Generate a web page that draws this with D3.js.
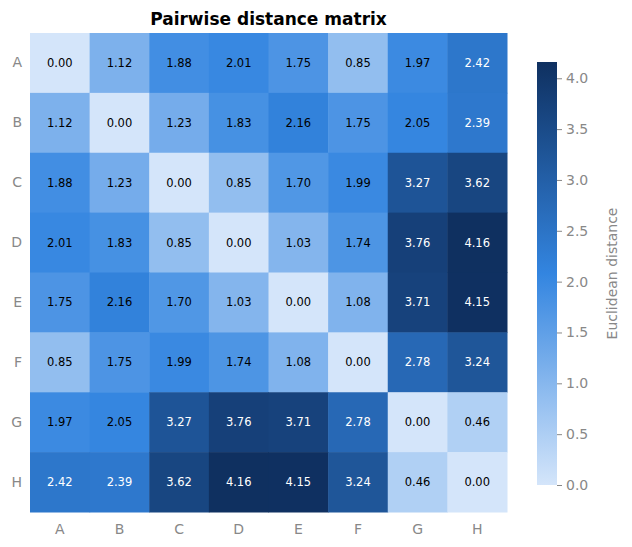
<!DOCTYPE html>
<html><head><meta charset="utf-8">
<script src="https://cdn.jsdelivr.net/npm/d3@7"></script>
<style>body{margin:0;background:#fff;font-family:"DejaVu Sans",sans-serif;}</style>
</head><body><div id="chart"></div>
<script>
const labels = ["A","B","C","D","E","F","G","H"];
const matrix = [
  [0.00,1.12,1.88,2.01,1.75,0.85,1.97,2.42],
  [1.12,0.00,1.23,1.83,2.16,1.75,2.05,2.39],
  [1.88,1.23,0.00,0.85,1.70,1.99,3.27,3.62],
  [2.01,1.83,0.85,0.00,1.03,1.74,3.76,4.16],
  [1.75,2.16,1.70,1.03,0.00,1.08,3.71,4.15],
  [0.85,1.75,1.99,1.74,1.08,0.00,2.78,3.24],
  [1.97,2.05,3.27,3.76,3.71,2.78,0.00,0.46],
  [2.42,2.39,3.62,4.16,4.15,3.24,0.46,0.00]
];
const cbTicks = [0,0.5,1,1.5,2,2.5,3,3.5,4];
const vmax = 4.16;

const svg = d3.select("#chart").append("svg").attr("width",632).attr("height",547);
const mLeft = 30, mTop = 33, w = 477, h = 479;

const x = d3.scaleBand().domain(labels).range([mLeft, mLeft+w]);
const y = d3.scaleBand().domain(labels).range([mTop, mTop+h]);
const color = d3.scaleLinear().domain([0, vmax/2, vmax])
  .range(["#d4e5fa","#3385e0","#0f3060"]).interpolate(d3.interpolateRgb);

const cells = [];
matrix.forEach((row,i) => row.forEach((v,j) => cells.push({r:labels[i], c:labels[j], v})));

svg.selectAll("rect.cell").data(cells).enter().append("rect")
  .attr("x", d => x(d.c)).attr("y", d => y(d.r))
  .attr("width", x.bandwidth()+0.5).attr("height", y.bandwidth()+0.5)
  .attr("fill", d => color(d.v));

svg.selectAll("text.val").data(cells).enter().append("text")
  .attr("x", d => x(d.c)+x.bandwidth()/2).attr("y", d => y(d.r)+y.bandwidth()/2)
  .attr("text-anchor","middle").attr("dominant-baseline","central")
  .attr("font-size",11.5).attr("fill", d => d.v > 2.3 ? "#fff" : "#000")
  .text(d => d.v.toFixed(2));

// axes labels
svg.append("g").attr("transform",`translate(0,${mTop+h})`)
  .call(d3.axisBottom(x).tickSize(0).tickPadding(12))
  .call(g => g.select(".domain").remove())
  .selectAll("text").attr("font-size",14).attr("fill","#888").attr("font-family","DejaVu Sans");
svg.append("g").attr("transform",`translate(${mLeft},0)`)
  .call(d3.axisLeft(y).tickSize(0).tickPadding(8))
  .call(g => g.select(".domain").remove())
  .selectAll("text").attr("font-size",14).attr("fill","#888").attr("font-family","DejaVu Sans");

svg.append("text").attr("x", mLeft+w/2).attr("y", 25).attr("text-anchor","middle")
  .attr("font-size",17).attr("font-weight","bold").text("Pairwise distance matrix");

// colorbar
const cbx = 537, cbw = 20, cbTop = 62, cbBot = 485;
const cy = d3.scaleLinear().domain([0, vmax]).range([cbBot, cbTop]);
const grad = svg.append("defs").append("linearGradient").attr("id","cb")
  .attr("x1",0).attr("y1",1).attr("x2",0).attr("y2",0);
d3.range(0,1.0001,0.1).forEach(t => grad.append("stop").attr("offset",t).attr("stop-color",color(t*vmax)));
svg.append("rect").attr("x",cbx).attr("y",cbTop).attr("width",cbw).attr("height",cbBot-cbTop).attr("fill","url(#cb)");
const cbAxis = svg.append("g").attr("transform",`translate(${cbx+cbw},0)`)
  .call(d3.axisRight(cy).tickValues(cbTicks).tickFormat(d3.format(".1f")).tickSize(5).tickPadding(4));
cbAxis.select(".domain").remove();
cbAxis.selectAll("line").attr("stroke","#888");
cbAxis.selectAll("text").attr("font-size",14).attr("fill","#888").attr("font-family","DejaVu Sans");
svg.append("text").attr("transform",`translate(617,${(cbTop+cbBot)/2}) rotate(-90)`)
  .attr("text-anchor","middle").attr("font-size",14).attr("fill","#888").text("Euclidean distance");
</script></body></html>
